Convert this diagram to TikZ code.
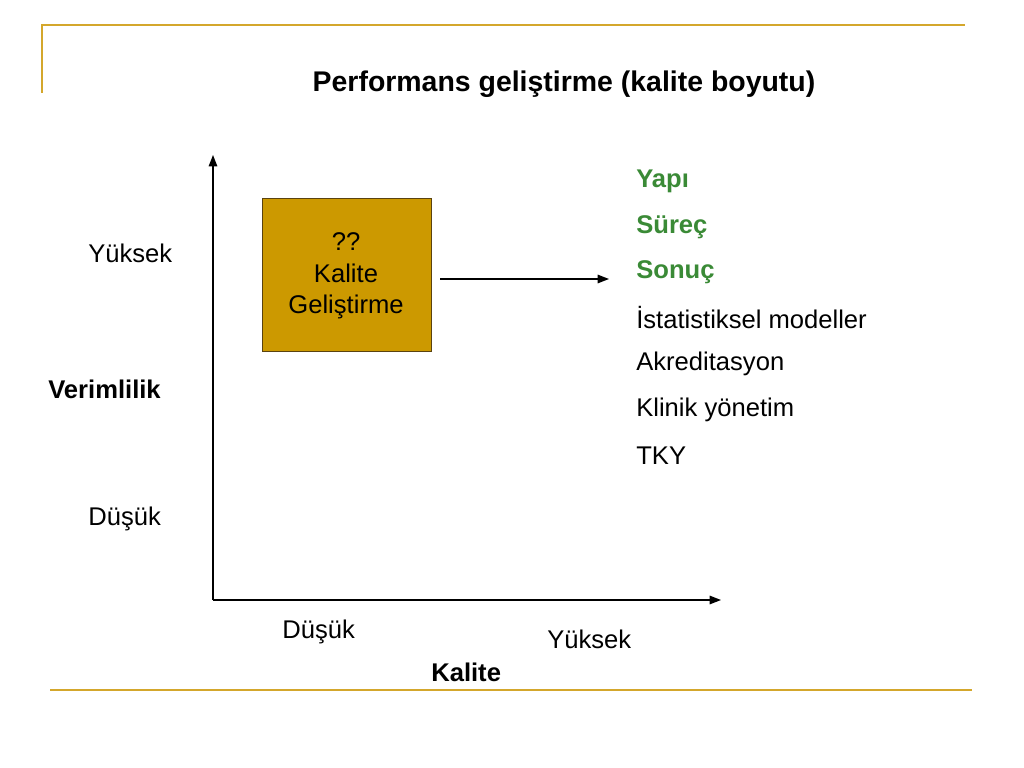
\documentclass[tikz,border=0pt]{standalone}
\usepackage{fontspec}
\setmainfont{Liberation Sans}
\usetikzlibrary{arrows.meta}
\definecolor{gold}{HTML}{D4A72C}
\definecolor{boxfill}{HTML}{CC9900}
\definecolor{boxline}{HTML}{5A4310}
\definecolor{green}{HTML}{3A8A36}
\begin{document}
\begin{tikzpicture}[x=0.703125pt,y=-0.703125pt,
  lbl/.style={inner sep=0pt,font=\fontsize{18}{21}\selectfont},
  bl/.style={lbl,font=\fontsize{18}{21}\selectfont\bfseries},
  gl/.style={bl,text=green},
  frame/.style={gold,line width=1.8pt},
  axis/.style={line width=1pt,-{Triangle[length=8pt,width=6pt]}}]
\useasboundingbox (0,0) rectangle (1024,768);
% frame lines
\coordinate (f1) at (42,93);
\coordinate (f2) at (42,25);
\coordinate (f3) at (965,25);
\draw[frame] (f1) -- (f2) -- (f3);
\coordinate (b1) at (50,690);
\coordinate (b2) at (972,690);
\draw[frame] (b1) -- (b2);
% title
\node[bl,font=\fontsize{20}{24}\selectfont\bfseries] (title) at (564,84) {Performans geliştirme (kalite boyutu)};
% axes
\coordinate (o) at (213,600);
\coordinate (ytop) at (213,155);
\coordinate (xend) at (721,600);
\draw[axis] (o) -- (ytop);
\draw[axis] (o) -- (xend);
% box
\node[draw=boxline,fill=boxfill,line width=0.6pt,minimum width=118.8pt,minimum height=107.6pt,inner sep=0pt,anchor=north west] (box) at (262,198) {};
\node[lbl,align=center,font=\fontsize{18}{22}\selectfont] (boxtxt) at (346,276) {??\\Kalite\\Geliştirme};
% arrow
\coordinate (a1) at (440,279);
\coordinate (a2) at (609,279);
\draw[axis] (a1) -- (a2);
% right list
\node[gl,anchor=west] (l1) at (636,181) {Yapı};
\node[gl,anchor=west] (l2) at (636,227) {Süreç};
\node[gl,anchor=west] (l3) at (636,272) {Sonuç};
\node[lbl,anchor=west] (l4) at (636,318) {İstatistiksel modeller};
\node[lbl,anchor=west] (l5) at (636,364) {Akreditasyon};
\node[lbl,anchor=west] (l6) at (636,410) {Klinik yönetim};
\node[lbl,anchor=west] (l7) at (636,456) {TKY};
% left labels
\node[lbl,anchor=west] (yy) at (88,253) {Yüksek};
\node[bl,anchor=west] (ver) at (48,389) {Verimlilik};
\node[lbl,anchor=west] (yd) at (88,519) {Düşük};
% bottom labels
\node[lbl,anchor=west] (xd) at (282,632) {Düşük};
\node[lbl,anchor=west] (xy) at (547,639) {Yüksek};
\node[bl,anchor=west] (kal) at (431,672) {Kalite};
\end{tikzpicture}
\end{document}
